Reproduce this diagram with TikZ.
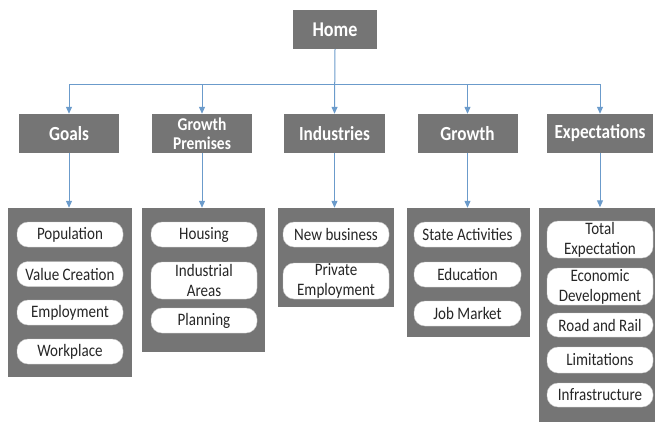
\documentclass[tikz,border=0pt]{standalone}
\usepackage{fontspec}
\setmainfont{Carlito}
\newfontfamily\narrowfont[FakeStretch=0.86]{Carlito}
\usetikzlibrary{arrows.meta}
\definecolor{boxgray}{HTML}{757575}
\definecolor{linkblue}{HTML}{6B9BCB}
\definecolor{pilledge}{HTML}{C8C8C8}
\tikzset{
  topbox/.style={fill=boxgray, draw=none, text=white, inner sep=0pt, align=center,
    font=\narrowfont\bfseries\fontsize{20}{21}\selectfont},
  groupbox/.style={fill=boxgray, draw=none, inner sep=0pt},
  pill/.style={fill=white, draw=pilledge, line width=0.4pt, rounded corners=11pt, inner sep=0pt,
    align=center, minimum width=106pt, minimum height=25pt, text=black!85,
    font=\narrowfont\fontsize{17.5}{20}\selectfont},
  link/.style={draw=linkblue, line width=1pt, -{Triangle[length=7pt,width=6pt]}}
}
\begin{document}
\begin{tikzpicture}[x=1pt,y=-1pt]
\useasboundingbox (0,0) rectangle (655,423);
% level 0
\node[topbox, minimum width=84pt, minimum height=39pt, font=\narrowfont\bfseries\fontsize{21}{22}\selectfont] (home) at (335,29.5) {Home};
% level 1
\node[topbox, minimum width=100pt, minimum height=39pt] (goals) at (69,133.5) {Goals};
\node[topbox, minimum width=100pt, minimum height=39pt, font=\narrowfont\bfseries\fontsize{18}{19}\selectfont] (prem) at (202,133.5) {Growth\\Premises};
\node[topbox, minimum width=101pt, minimum height=39pt] (ind) at (334.5,133.5) {Industries};
\node[topbox, minimum width=100pt, minimum height=39pt] (grow) at (467.5,133.5) {Growth};
\node[topbox, minimum width=106pt, minimum height=39pt] (exp) at (600,133.5) {Expectations};
% groups
\node[groupbox, minimum width=124pt, minimum height=169pt] (g1) at (70,292.5) {};
\node[groupbox, minimum width=123pt, minimum height=144pt] (g2) at (203.5,280) {};
\node[groupbox, minimum width=116pt, minimum height=99pt] (g3) at (336,257.5) {};
\node[groupbox, minimum width=123pt, minimum height=129pt] (g4) at (468.5,272.5) {};
\node[groupbox, minimum width=116pt, minimum height=214pt] (g5) at (597,314.5) {};
% pills: goals
\node[pill] (p11) at (70,234.5) {Population};
\node[pill] (p12) at (70,274) {Value Creation};
\node[pill] (p13) at (70,312.5) {Employment};
\node[pill] (p14) at (70,351.5) {Workplace};
% pills: growth premises
\node[pill] (p21) at (204,234.5) {Housing};
\node[pill, minimum height=37pt] (p22) at (204,280.5) {Industrial\\Areas};
\node[pill] (p23) at (204,320.5) {Planning};
% pills: industries
\node[pill] (p31) at (336,234.5) {New business};
\node[pill, minimum height=36pt] (p32) at (336,281) {Private\\Employment};
% pills: growth
\node[pill, minimum width=107pt] (p41) at (467.5,234.5) {State Activities};
\node[pill, minimum width=107pt] (p42) at (467.5,274.5) {Education};
\node[pill, minimum width=107pt] (p43) at (467.5,313.5) {Job Market};
% pills: expectations
\node[pill, minimum height=37pt] (p51) at (600,239.5) {Total\\Expectation};
\node[pill, minimum height=37pt] (p52) at (600,286.5) {Economic\\Development};
\node[pill, minimum height=24pt] (p53) at (600,325) {Road and Rail};
\node[pill, minimum height=26pt] (p54) at (600,360) {Limitations};
\node[pill, minimum height=24pt] (p55) at (600,395) {Infrastructure};
% connectors
\coordinate (bus) at (335,84);
\draw[link] (home.south) -- (ind.north);
\draw[link] (bus) -| (goals.north);
\draw[link] (bus) -| (prem.north);
\draw[link] (bus) -| (grow.north);
\draw[link] (bus) -| (exp.north);
\draw[link] (goals.south) -- (goals.south |- g1.north);
\draw[link] (prem.south) -- (prem.south |- g2.north);
\draw[link] (ind.south) -- (ind.south |- g3.north);
\draw[link] (grow.south) -- (grow.south |- g4.north);
\draw[link] (exp.south) -- (exp.south |- g5.north);
\end{tikzpicture}
\end{document}
